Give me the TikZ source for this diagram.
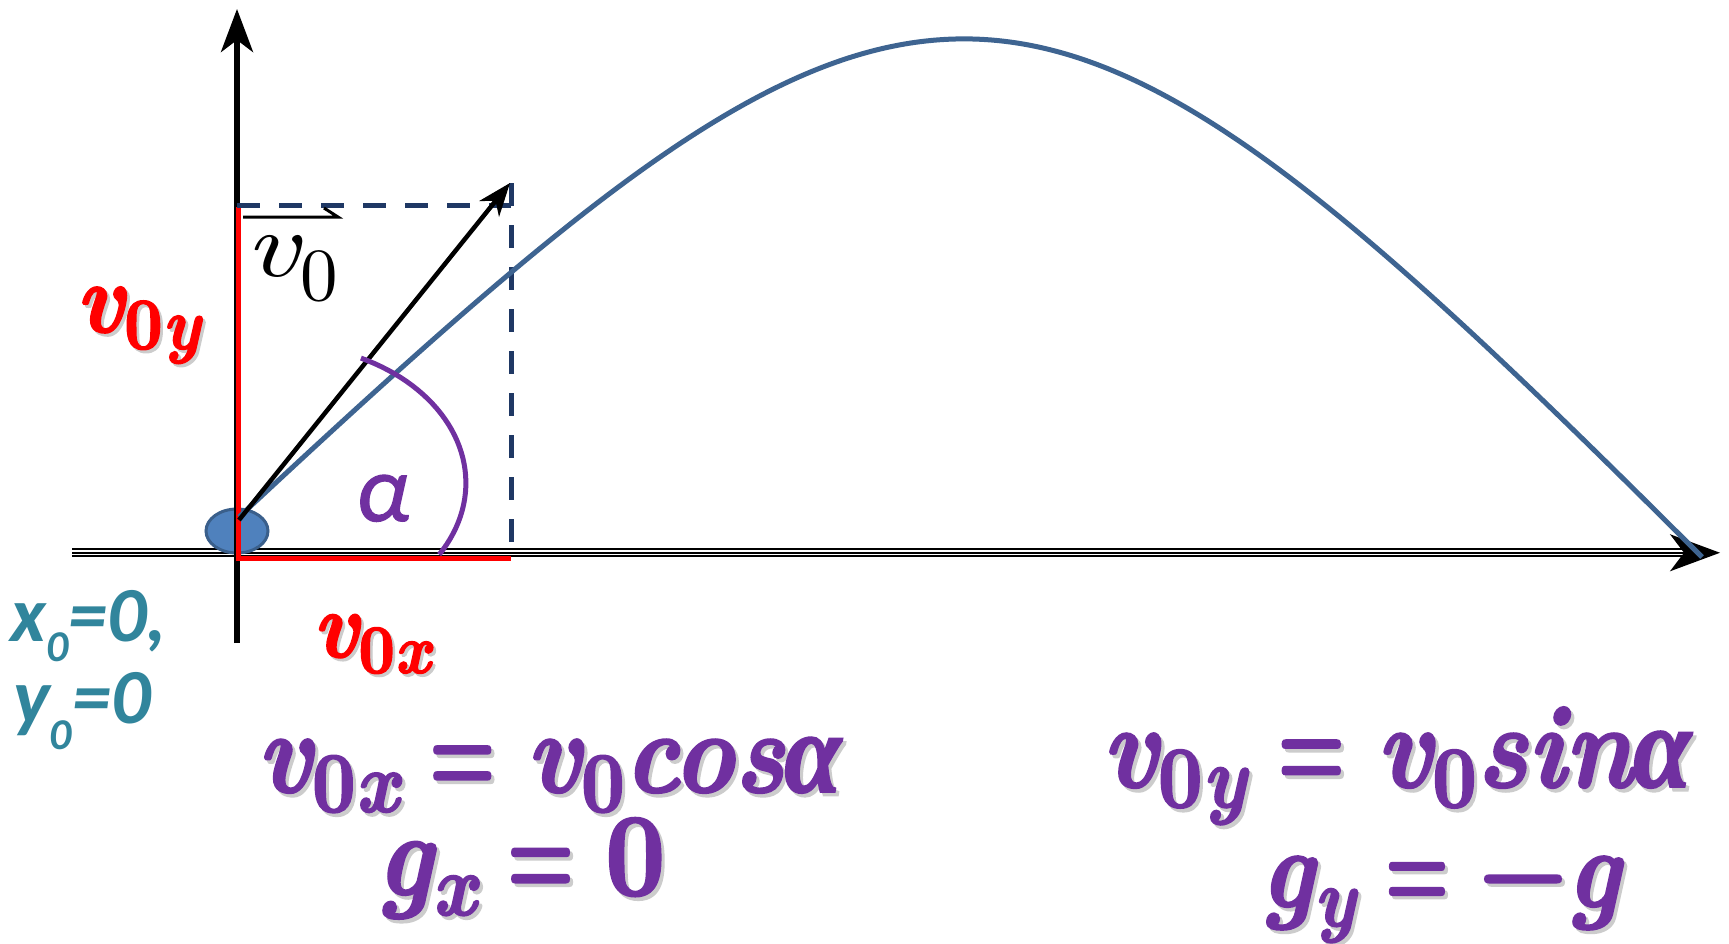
\documentclass[tikz,border=0pt]{standalone}
\usepackage{fontspec}
\newfontfamily\carlito{Carlito}
\newfontfamily\alphafont{Carlito}[ItalicFeatures={FakeBold=1.3}]
\newfontfamily\grk{Liberation Serif}[BoldItalicFeatures={FakeBold=1.6}]
\newfontfamily\eqfont{lmroman10}[Extension=.otf, UprightFont=*-regular, BoldFont=*-bold, ItalicFont=*-italic, BoldItalicFont=*-bolditalic, BoldFeatures={FakeBold=2.1}, BoldItalicFeatures={FakeBold=2.1}]
\usetikzlibrary{arrows.meta,shapes.geometric}
\definecolor{traj}{HTML}{3E6491}
\definecolor{navy}{HTML}{1F3864}
\definecolor{ballfill}{HTML}{4F81BD}
\definecolor{balldraw}{HTML}{3A5F8B}
\definecolor{eqpurple}{HTML}{7030A0}
\definecolor{tealtxt}{HTML}{31859C}
\definecolor{shade}{gray}{0.8}
\newcommand\lo[1]{\raisebox{-0.17em}{\scalebox{0.74}{#1}}}
\newcommand\eqeq{\hspace{0.3em}\scalebox{0.72}[1]{=}\hspace{0.3em}}
\newcommand\shad[1]{\rlap{\kern0.03em\raisebox{-0.03em}{\color{shade}#1}}#1}
\newcommand\fit[3]{\scalebox{1}[#3]{\resizebox{#1}{!}{#2}}}
\tikzset{
  axisarrow/.style={line width=5.5pt, -{Stealth[length=43pt,width=32pt,inset=12pt]}},
  axisthin/.style={line width=1.7pt},
  comp/.style={red, line width=5pt, line join=miter},
  guide/.style={navy, line width=5pt, dash pattern=on 23pt off 19pt},
  eq/.style={text=eqpurple, font=\eqfont\fontsize{100}{110}\selectfont\bfseries, inner sep=0pt, anchor=base west},
  redlbl/.style={text=red, font=\eqfont\fontsize{100}{110}\selectfont\bfseries, inner sep=0pt, anchor=base west},
  tealtext/.style={text=tealtxt, font=\carlito\bfseries\itshape\fontsize{78}{80}\selectfont, inner sep=0pt, anchor=base west},
}
\begin{document}
\begin{tikzpicture}[x=1pt,y=-1pt]
\useasboundingbox[fill=white] (0,0) rectangle (1729,943);

% horizontal axis (triple line)
\coordinate (xs) at (72,552.75);
\coordinate (xe) at (1720,552.75);
\draw[axisthin] (72,549.3) -- (1685,549.3);
\draw[axisthin] (72,556.2) -- (1685,556.2);
\draw[axisthin, -{Stealth[length=50pt,width=37pt,inset=14pt]}] (xs) -- (xe);

% ball
\node[ellipse, draw=balldraw, fill=ballfill, line width=3pt, minimum width=62pt, minimum height=44pt, inner sep=0pt] (ball) at (237,531) {};

% vertical axis
\coordinate (ys) at (237,643);
\coordinate (ye) at (237,9);
\draw[axisarrow] (ys) -- (ye);

% components
\coordinate (vy) at (238.5,207);
\coordinate (org) at (238.5,558);
\coordinate (vx) at (511,558);
\draw[comp] (vy) -- (org) -- (vx);

% dashed guides
\coordinate (gh1) at (237,205);
\coordinate (gh2) at (511,205);
\coordinate (gv1) at (511,183);
\coordinate (gv2) at (511,542);
\draw[guide] (gh1) -- (gh2);
\draw[guide] (gv1) -- (gv2);

% trajectory
\coordinate (ts) at (239,517);
\coordinate (te) at (1702,557);
\draw[traj, line width=5pt] (ts) .. controls (929,-127) and (1018,-127) .. (te);

% v0 vector
\coordinate (vs) at (239,520);
\coordinate (vt) at (510,183);
\draw[line width=4.5pt, -{Stealth[length=33pt,width=25pt,inset=10pt]}] (vs) -- (vt);

% angle arc
\draw[eqpurple, line width=5pt, shift={(279,483)}] plot[domain=64:-31, samples=40] ({186.9*cos(\x)}, {-139*sin(\x)});
\node[text=eqpurple, font=\alphafont\itshape\fontsize{95}{100}\selectfont, inner sep=0pt, anchor=base west] (alpha) at (356,521) {α};

% v0 label with harpoon
\node[anchor=base west, inner sep=0pt, font=\eqfont\fontsize{93}{100}\selectfont] (v0lbl) at (245,276) {\scalebox{1.25}[1]{\itshape v}\kern2pt\raisebox{-24pt}{\fontsize{75}{75}\selectfont 0}};
\draw[line width=3pt] (243,217) -- (338,217) -- (324,208);

% red labels
\node[redlbl] (v0y) at (76,332) {\fit{124pt}{\shad{{\itshape v}\lo{0{\itshape y}}}}{1.1}};
\node[redlbl] (v0x) at (313,657) {\fit{117pt}{\shad{{\itshape v}\lo{0{\itshape x}}}}{1.1}};

% initial position
\node[tealtext] (x0) at (10,641) {x{\fontsize{44}{44}\selectfont\raisebox{-20pt}{0}}=0,};
\node[tealtext] (y0) at (13,723) {y{\fontsize{44}{44}\selectfont\raisebox{-26pt}{0}}=0};

% equations
\node[eq] (eqA) at (257,792) {\fit{584pt}{\shad{{\itshape v}\lo{0{\itshape x}}\eqeq{\itshape v}\lo{0}{\itshape cos}{\grk\itshape α}}}{1.13}};
\node[eq] (eqB) at (377,895) {\fit{288pt}{\shad{{\itshape g}\lo{\itshape x}\eqeq0}}{1.13}};
\node[eq] (eqC) at (1102,787) {\fit{589pt}{\shad{{\itshape v}\lo{0{\itshape y}}\eqeq{\itshape v}\lo{0}{\itshape sin}{\grk\itshape α}}}{1.13}};
\node[eq] (eqD) at (1261,907) {\fit{359pt}{\shad{{\itshape g}\lo{\itshape y}\eqeq\char"2212{\itshape g}}}{1.13}};
\end{tikzpicture}
\end{document}
